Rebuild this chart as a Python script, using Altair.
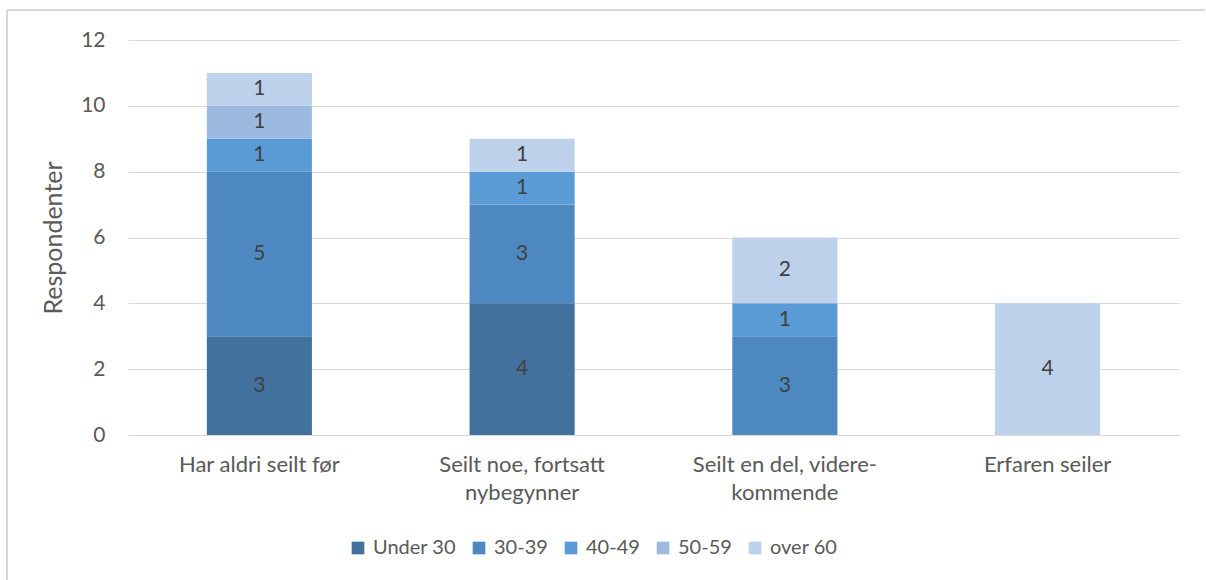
import altair as alt
import pandas as pd

# Sailing experience groups (axis labels split over lines)
CATEGORY_LINES = [
    ["Har aldri seilt før"],
    ["Seilt noe, fortsatt", "nybegynner"],
    ["Seilt en del, videre-", "kommende"],
    ["Erfaren seiler"],
]
CATEGORIES = ["\n".join(lines) for lines in CATEGORY_LINES]

AGE_GROUPS = ["Under 30", "30-39", "40-49", "50-59", "over 60"]
AGE_COLORS = ["#41719c", "#4e88c0", "#5b9bd5", "#9cbae0", "#bdd1ea"]

# Respondents per age group, one value per experience group (None = no answers)
UNDER_30 = [3, 4, None, None]
AGE_30_39 = [5, 3, 3, None]
AGE_40_49 = [1, 1, 1, None]
AGE_50_59 = [1, None, None, None]
OVER_60 = [1, 1, 2, 4]

SERIES = [UNDER_30, AGE_30_39, AGE_40_49, AGE_50_59, OVER_60]

rows = []
for order, (group, values) in enumerate(zip(AGE_GROUPS, SERIES)):
    for cat, v in zip(CATEGORIES, values):
        if v is not None:
            rows.append({"kategori": cat, "alder": group, "rekkefolge": order, "antall": v})
df = pd.DataFrame(rows)

FONT = "Lato"
TEXT = "#595959"
GRID = "#d9d9d9"

base = alt.Chart(df).transform_stack(
    stack="antall",
    groupby=["kategori"],
    as_=["y0", "y1"],
    sort=[alt.SortField("rekkefolge", order="ascending")],
).transform_calculate(
    ymid="(datum.y0 + datum.y1) / 2"
)

x_enc = alt.X(
    "kategori:N",
    sort=CATEGORIES,
    scale=alt.Scale(paddingInner=0.6, paddingOuter=0.3),
    axis=alt.Axis(
        title=None,
        labelAngle=0,
        labelExpr="split(datum.label, '\\n')",
        labelFont=FONT,
        labelFontSize=22,
        labelColor=TEXT,
        labelPadding=19,
        labelLineHeight=28,
        labelLimit=0,
        ticks=False,
        domainColor=GRID,
        domainWidth=1,
    ),
)

bars = base.mark_bar().encode(
    x=x_enc,
    y=alt.Y(
        "y0:Q",
        scale=alt.Scale(domain=[0, 12]),
        axis=alt.Axis(
            title="Respondenter",
            titleFont=FONT,
            titleFontSize=25,
            titleFontWeight="normal",
            titleColor=TEXT,
            titlePadding=14,
            values=[0, 2, 4, 6, 8, 10, 12],
            labelFont=FONT,
            labelFontSize=21,
            labelColor=TEXT,
            labelPadding=23,
            ticks=False,
            domain=False,
            gridColor=GRID,
            gridWidth=1,
        ),
    ),
    y2="y1:Q",
    color=alt.Color(
        "alder:N",
        sort=AGE_GROUPS,
        scale=alt.Scale(domain=AGE_GROUPS, range=AGE_COLORS),
        legend=alt.Legend(
            title=None,
            orient="none",
            direction="horizontal",
            legendX=220,
            legendY=498,
            symbolType="square",
            symbolSize=160,
            symbolStrokeWidth=0,
            labelFont=FONT,
            labelFontSize=20,
            labelColor=TEXT,
            labelOffset=5,
            columnPadding=13,
        ),
    ),
)

labels = base.mark_text(font=FONT, fontSize=21, color="#404040").encode(
    x=alt.X("kategori:N", sort=CATEGORIES),
    y="ymid:Q",
    text="antall:Q",
)

# light frame around the chart
frame_top = alt.Chart(df).mark_rule(color=GRID, strokeWidth=2).encode(
    x=alt.value(-121), x2=alt.value(1100), y=alt.value(-30)
)
frame_left = alt.Chart(df).mark_rule(color=GRID, strokeWidth=2).encode(
    x=alt.value(-121), y=alt.value(-30), y2=alt.value(600)
)

chart = alt.layer(bars, labels, frame_top, frame_left).properties(
    width=1051,
    height=395,
    padding={"left": 128, "top": 40, "right": 26, "bottom": 145},
    autosize=alt.AutoSizeParams(type="none"),
    background="white",
).configure_view(stroke=None)

chart.save("out.html", embed_options={"renderer": "svg", "actions": False})
